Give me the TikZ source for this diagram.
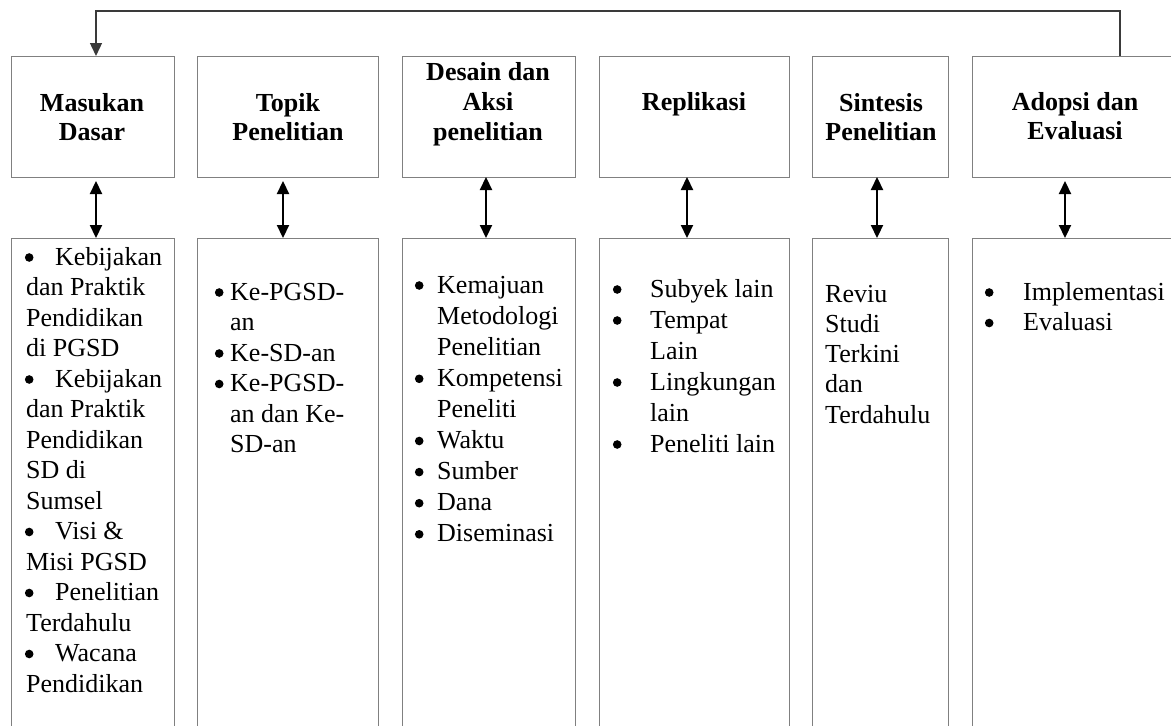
\documentclass[tikz,border=0pt]{standalone}
\usepackage{fontspec}
\setmainfont{Liberation Serif}
\usetikzlibrary{arrows.meta}
\definecolor{boxgray}{HTML}{808080}
\definecolor{feedgray}{HTML}{3A3A3A}
\newcommand{\bul}{\tikz[x=1pt,y=1pt,baseline=0pt]{\path (0,0) rectangle (9,0);\fill[black] (4.5,7.5) circle (4.3);}}
\begin{document}
\begin{tikzpicture}[x=1pt,y=-1pt,
  box/.style={draw=boxgray, line width=1pt, anchor=north west, inner sep=0pt, outer sep=0pt},
  head/.style={anchor=base, inner sep=0pt, font=\fontsize{26}{29.5}\selectfont\bfseries},
  body/.style={anchor=base west, inner sep=0pt, font=\fontsize{26}{30.5}\selectfont},
  link/.style={line width=2.2pt, {Triangle[length=13pt,width=12pt]}-{Triangle[length=13pt,width=12pt]}},
  feed/.style={line width=1.4pt, draw=feedgray, -{Triangle[length=13pt,width=12pt]}}
]
\useasboundingbox (0,0) rectangle (1171,726);
\clip (0,0) rectangle (1171,726);

% top boxes
\node[box, minimum width=163pt, minimum height=121pt] (t1) at (11,56) {};
\node[box, minimum width=181pt, minimum height=121pt] (t2) at (197,56) {};
\node[box, minimum width=173pt, minimum height=121pt] (t3) at (402,56) {};
\node[box, minimum width=190pt, minimum height=121pt] (t4) at (599,56) {};
\node[box, minimum width=136pt, minimum height=121pt] (t5) at (812,56) {};
\node[box, minimum width=206pt, minimum height=121pt] (t6) at (972,56) {};

% bottom boxes
\node[box, minimum width=163pt, minimum height=510pt] (b1) at (11,238) {};
\node[box, minimum width=181pt, minimum height=510pt] (b2) at (197,238) {};
\node[box, minimum width=173pt, minimum height=510pt] (b3) at (402,238) {};
\node[box, minimum width=190pt, minimum height=510pt] (b4) at (599,238) {};
\node[box, minimum width=136pt, minimum height=510pt] (b5) at (812,238) {};
\node[box, minimum width=206pt, minimum height=510pt] (b6) at (972,238) {};

% headings
\node[head] (h1) at (92,111) {\begin{tabular}[t]{@{}c@{}}Masukan\\Dasar\end{tabular}};
\node[head] (h2) at (288,111) {\begin{tabular}[t]{@{}c@{}}Topik\\Penelitian\end{tabular}};
\node[head, font=\fontsize{26}{30}\selectfont\bfseries] (h3) at (488,80) {\begin{tabular}[t]{@{}c@{}}Desain dan\\Aksi\\penelitian\end{tabular}};
\node[head] (h4) at (694,110) {Replikasi};
\node[head] (h5) at (881,111) {\begin{tabular}[t]{@{}c@{}}Sintesis\\Penelitian\end{tabular}};
\node[head] (h6) at (1075,110) {\begin{tabular}[t]{@{}c@{}}Adopsi dan\\Evaluasi\end{tabular}};

% body texts
\node[body] (l1) at (24.5,265) {\begin{tabular}[t]{@{}l@{}}
\makebox[30.5pt][l]{\bul}Kebijakan\\
\hspace*{1.5pt}dan Praktik\\
\hspace*{1.5pt}Pendidikan\\
\hspace*{1.5pt}di PGSD\\
\makebox[30.5pt][l]{\bul}Kebijakan\\
\hspace*{1.5pt}dan Praktik\\
\hspace*{1.5pt}Pendidikan\\
\hspace*{1.5pt}SD di\\
\hspace*{1.5pt}Sumsel\\
\makebox[30.5pt][l]{\bul}Visi \&\\
\hspace*{1.5pt}Misi PGSD\\
\makebox[30.5pt][l]{\bul}Penelitian\\
\hspace*{1.5pt}Terdahulu\\
\makebox[30.5pt][l]{\bul}Wacana\\
\hspace*{1.5pt}Pendidikan
\end{tabular}};

\node[body] (l2) at (214.5,300) {\begin{tabular}[t]{@{}l@{\hspace{6.5pt}}l@{}}
\bul & Ke-PGSD-\\
 & an\\
\bul & Ke-SD-an\\
\bul & Ke-PGSD-\\
 & an dan Ke-\\
 & SD-an
\end{tabular}};

\node[body, font=\fontsize{26}{31.1}\selectfont] (l3) at (414.5,293) {\begin{tabular}[t]{@{}l@{\hspace{13.5pt}}l@{}}
\bul & Kemajuan\\
 & Metodologi\\
 & Penelitian\\
\bul & Kompetensi\\
 & Peneliti\\
\bul & Waktu\\
\bul & Sumber\\
\bul & Dana\\
\bul & Diseminasi
\end{tabular}};

\node[body, font=\fontsize{26}{31}\selectfont] (l4) at (612.5,297) {\begin{tabular}[t]{@{}l@{\hspace{28.5pt}}l@{}}
\bul & Subyek lain\\
\bul & Tempat\\
 & Lain\\
\bul & Lingkungan\\
 & lain\\
\bul & Peneliti lain
\end{tabular}};

\node[body, font=\fontsize{26}{30.3}\selectfont] (l5) at (825,302) {\begin{tabular}[t]{@{}l@{}}
Reviu\\Studi\\Terkini\\dan\\Terdahulu
\end{tabular}};

\node[body] (l6) at (984.5,300) {\begin{tabular}[t]{@{}l@{\hspace{29.5pt}}l@{}}
\bul & Implementasi\\
\bul & Evaluasi
\end{tabular}};

% connector positions
\coordinate (a1) at (96,0);
\coordinate (a2) at (283,0);
\coordinate (a3) at (486,0);
\coordinate (a4) at (687,0);
\coordinate (a5) at (877,0);
\coordinate (a6) at (1065,0);
\coordinate (fr) at (1120,11);
\coordinate (fl) at (96,11);

\draw[link, shorten <=4pt] (t1.south -| a1) -- (b1.north -| a1);
\draw[link, shorten <=4pt] (t2.south -| a2) -- (b2.north -| a2);
\draw[link] (t3.south -| a3) -- (b3.north -| a3);
\draw[link] (t4.south -| a4) -- (b4.north -| a4);
\draw[link] (t5.south -| a5) -- (b5.north -| a5);
\draw[link, shorten <=4pt] (t6.south -| a6) -- (b6.north -| a6);

\draw[feed] (t6.north -| fr) -- (fr) -- (fl) -- (t1.north -| fl);
\end{tikzpicture}
\end{document}
